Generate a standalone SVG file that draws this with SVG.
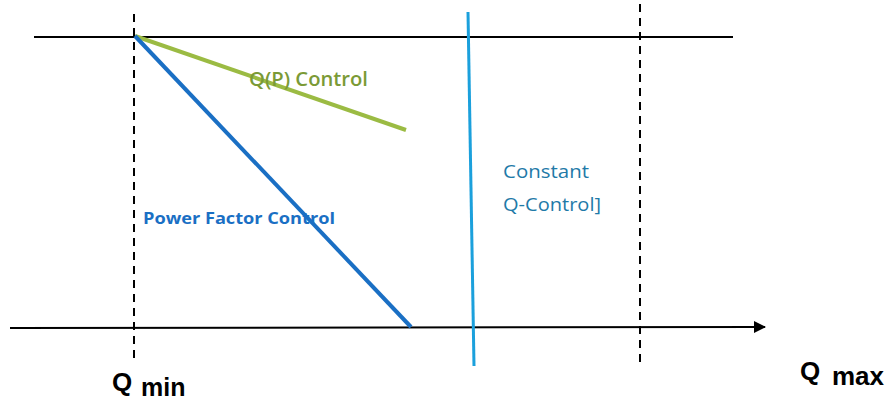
<svg xmlns="http://www.w3.org/2000/svg" width="890" height="402" viewBox="0 0 890 402">
<defs>
<style>
.axis{stroke:#000;stroke-width:2;fill:none}
.dash{stroke:#000;stroke-width:2;stroke-dasharray:8 6;fill:none}
.lbl{font-family:"Liberation Sans",Arial,sans-serif;font-weight:bold;fill:#000}
.cal{font-family:"Open Sans","Noto Sans",sans-serif}
</style>
<marker id="arr" markerWidth="12" markerHeight="12" refX="11" refY="6" orient="auto" markerUnits="userSpaceOnUse">
<path d="M0,0 L12,6 L0,12 Z" fill="#000"/>
</marker>
</defs>
<rect width="890" height="402" fill="#fff"/>
<g id="axes">
<line class="axis" x1="34" y1="37" x2="733" y2="37"/>
<line class="axis" x1="10" y1="328" x2="765" y2="327" marker-end="url(#arr)"/>
<line class="dash" x1="134" y1="14" x2="134" y2="362"/>
<line class="dash" x1="640" y1="4" x2="640" y2="366"/>
</g>
<g id="connectors">
<line x1="135" y1="36" x2="406" y2="130" stroke="#9bbb43" stroke-width="4"/>
<line x1="135" y1="36" x2="411" y2="327" stroke="#1a6fc4" stroke-width="4"/>
<line x1="468" y1="12" x2="474" y2="366" stroke="#1ba0dc" stroke-width="3"/>
</g>
<g id="qp-label"><text class="cal" x="249" y="86" font-size="19" font-weight="600" fill="#7b9a36" textLength="119" lengthAdjust="spacingAndGlyphs">Q(P) Control</text></g>
<g id="pf-label"><text class="cal" x="143" y="224" font-size="16" font-weight="bold" fill="#1a6fc4" textLength="192" lengthAdjust="spacingAndGlyphs">Power Factor Control</text></g>
<g id="const-label"><text class="cal" font-size="19" fill="#1f7aa8"><tspan x="503" y="178" textLength="86" lengthAdjust="spacingAndGlyphs">Constant</tspan><tspan x="503" y="211" textLength="98" lengthAdjust="spacingAndGlyphs">Q-Control]</tspan></text></g>
<g id="qmin"><text class="lbl" x="112" y="391" font-size="26">Q</text><text class="lbl" x="141" y="396" font-size="25">min</text></g>
<g id="qmax"><text class="lbl" x="800" y="380" font-size="26">Q</text><text class="lbl" x="832" y="385" font-size="26">max</text></g>
</svg>
